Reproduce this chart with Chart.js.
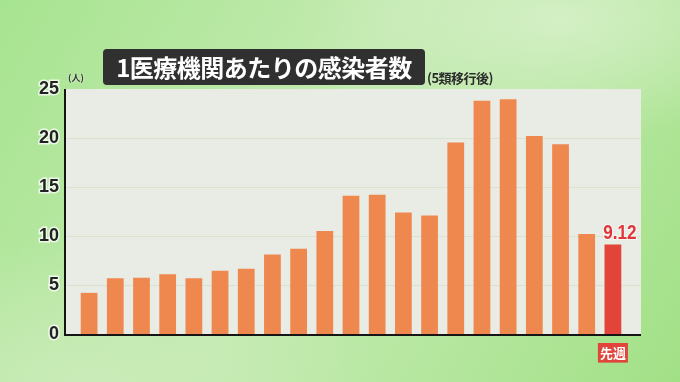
<!DOCTYPE html>
<html>
<head>
<meta charset="utf-8">
<script src="https://cdn.jsdelivr.net/npm/chart.js@4"></script>
<style>
  html, body { margin: 0; padding: 0; }
  body {
    width: 680px; height: 382px; overflow: hidden; position: relative;
    background:
      radial-gradient(ellipse 260px 120px at 560px 20px, rgba(214,240,200,0.9), rgba(214,240,200,0)),
      radial-gradient(ellipse 300px 140px at 80px 380px, rgba(205,236,188,0.8), rgba(205,236,188,0)),
      linear-gradient(120deg, #a7e490 0%, #c3eab0 45%, #b6e7a0 70%, #a2e086 100%);
    font-family: "Noto Sans CJK JP", sans-serif;
  }
  #wrap { position: absolute; left: 0; top: 0; width: 680px; height: 382px; }
  .title {
    position: absolute; left: 103px; top: 49px; width: 322px; height: 36px;
    background: #2f302f; border-radius: 4px; color: #fff;
    font-weight: 700; font-size: 24px; line-height: 36px; text-align: center;
    letter-spacing: -0.5px;
  }
  .sub {
    position: absolute; left: 427px; top: 68px; font-size: 13px; font-weight: 700;
    color: #2a2a2a; letter-spacing: -0.5px;
  }
  .unit {
    position: absolute; left: 68px; top: 71px; font-size: 9px; font-weight: 700;
    color: #333; text-shadow: 0 0 2px #fff;
  }
</style>
</head>
<body>
<div id="wrap"><canvas id="myChart" width="680" height="382"></canvas></div>
<div class="title">1医療機関あたりの感染者数</div>
<div class="sub">(5類移行後)</div>
<div class="unit">(人)</div>
<script>
const ctx = document.getElementById('myChart');

// weekly counts per medical institution, last bar = last week
const weeks = ['', '', '', '', '', '', '', '', '', '', '', '', '', '', '', '', '', '', '', '', '先週'];
const patients = [4.2, 5.7, 5.75, 6.1, 5.7, 6.45, 6.65, 8.1, 8.7, 10.5, 14.1, 14.2, 12.4, 12.1, 19.55, 23.8, 23.95, 20.2, 19.35, 10.2, 9.12];
const yTicks = [0, 5, 10, 15, 20, 25];

const lastIdx = patients.length - 1;
const barColors = patients.map((v, i) => i === lastIdx ? '#e3443a' : '#ef884e');

// panel background, grid and axis lines drawn wider than the bar area
const panel = {
    id: 'panel',
    beforeDatasetsDraw(chart) {
        const { ctx, chartArea, scales } = chart;
        const left = chartArea.left - 11;
        const right = chartArea.right + 15;
        const top = scales.y.getPixelForValue(25);
        const bottom = scales.y.getPixelForValue(0);
        ctx.save();
        ctx.fillStyle = '#e8ece5';
        ctx.fillRect(left, top, right - left, bottom - top);
        ctx.strokeStyle = '#d9e2cb';
        ctx.lineWidth = 1;
        yTicks.forEach(t => {
            if (t === 0 || t === 25) return;
            const y = Math.round(scales.y.getPixelForValue(t)) + 0.5;
            ctx.beginPath();
            ctx.moveTo(left, y);
            ctx.lineTo(right, y);
            ctx.stroke();
        });
        ctx.restore();
    },
    afterDatasetsDraw(chart) {
        const { ctx, chartArea, scales } = chart;
        const left = chartArea.left - 11;
        const right = chartArea.right + 15;
        const top = scales.y.getPixelForValue(25);
        const bottom = scales.y.getPixelForValue(0);
        ctx.save();
        ctx.strokeStyle = '#151515';
        ctx.lineWidth = 2;
        ctx.beginPath();
        ctx.moveTo(left, top);
        ctx.lineTo(left, bottom + 1);
        ctx.lineTo(right, bottom + 1);
        ctx.stroke();

        // value over last bar, slightly condensed
        const bar = chart.getDatasetMeta(0).data[lastIdx];
        ctx.translate(bar.x + 7, bar.y - 1);
        ctx.scale(0.9, 1.1);
        ctx.fillStyle = '#e0363a';
        ctx.font = 'bold 19px "Liberation Sans", sans-serif';
        ctx.textAlign = 'center';
        ctx.textBaseline = 'bottom';
        ctx.strokeStyle = 'rgba(255,255,255,0.6)';
        ctx.lineWidth = 2;
        ctx.strokeText(patients[lastIdx].toFixed(2), 0, 0);
        ctx.fillText(patients[lastIdx].toFixed(2), 0, 0);
        ctx.restore();
    }
};

let chart = new Chart(ctx, {
    type: 'bar',
    data: {
        labels: weeks,
        datasets: [{
            label: '感染者数',
            data: patients,
            backgroundColor: barColors,
            borderWidth: 0,
            categoryPercentage: 1,
            barPercentage: 0.64,
        }],
    },
    options: {
        responsive: false,
        animation: false,
        layout: { padding: { top: 89, right: 54, left: 0, bottom: 0 } },
        plugins: {
            legend: { display: false },
            tooltip: { enabled: false },
        },
        scales: {
            x: {
                grid: { display: false, drawTicks: false },
                border: { display: false },
                afterFit: s => { s.height = 48; },
                ticks: {
                    padding: 11,
                    maxRotation: 0,
                    autoSkip: false,
                    color: '#ffffff',
                    font: { family: '"Noto Sans CJK JP", sans-serif', size: 13, weight: 'bold' },
                    showLabelBackdrop: c => c.index === lastIdx,
                    backdropColor: '#e0443a',
                    backdropPadding: { top: 2, bottom: 2, left: 2, right: 2 },
                },
            },
            y: {
                min: 0,
                max: 25,
                afterFit: s => { s.width = 76; },
                afterBuildTicks: s => { s.ticks = yTicks.map(v => ({ value: v })); },
                grid: { display: false, drawTicks: false },
                border: { display: false },
                ticks: {
                    padding: 17,
                    color: '#222',
                    textStrokeColor: 'rgba(255,255,255,0.75)',
                    textStrokeWidth: 3,
                    font: { family: '"Liberation Sans", Arial, sans-serif', size: 18, weight: 'bold' },
                },
            },
        },
    },
    plugins: [panel],
});
</script>
</body>
</html>
